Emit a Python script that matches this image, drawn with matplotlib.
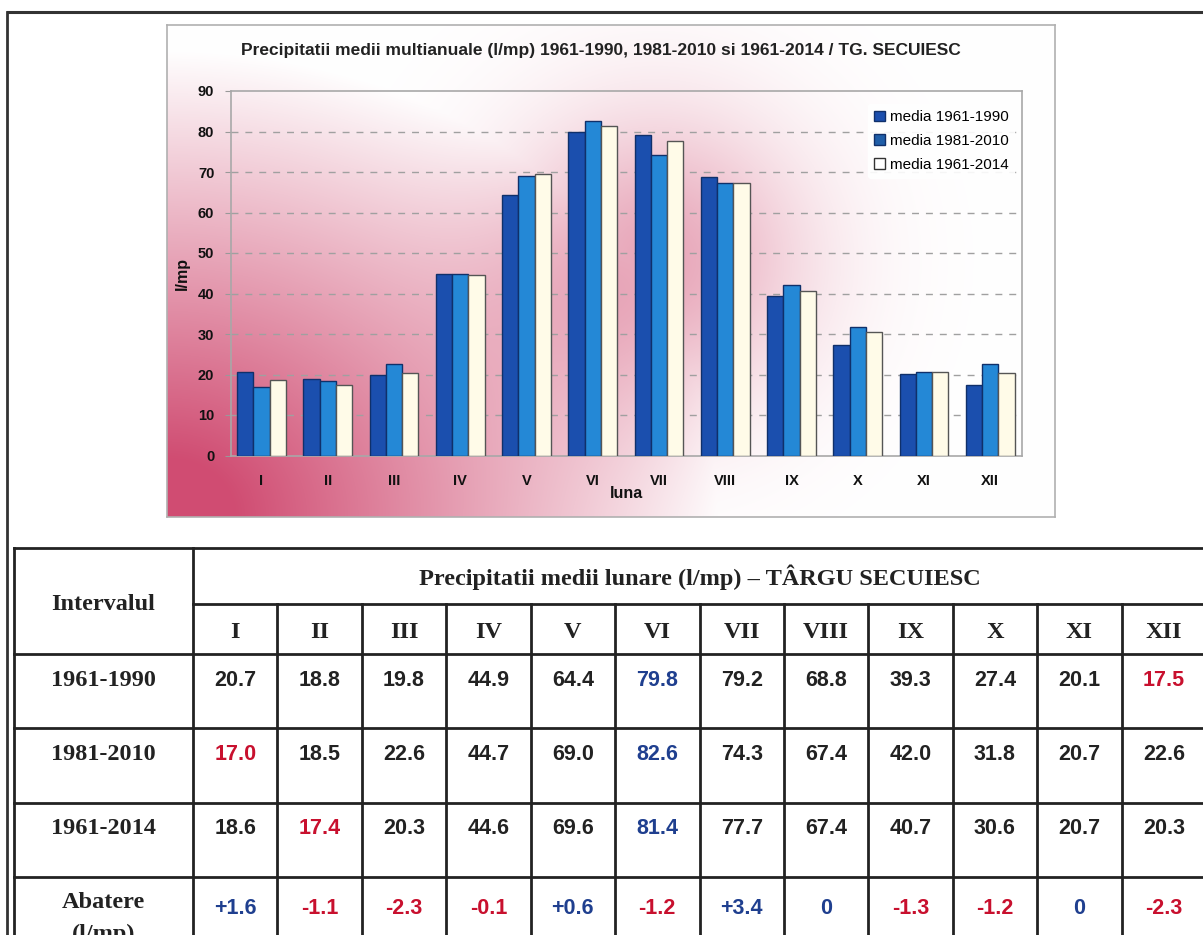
import numpy as np
import matplotlib
matplotlib.use("Agg")
import matplotlib.pyplot as plt
from matplotlib.patches import Patch

# ---------------- data ----------------
months = ["I", "II", "III", "IV", "V", "VI", "VII", "VIII", "IX", "X", "XI", "XII"]
series_labels = ["media 1961-1990", "media 1981-2010", "media 1961-2014"]
row_labels = ["1961-1990", "1981-2010", "1961-2014"]
v_1961_1990 = [20.7, 18.8, 19.8, 44.9, 64.4, 79.8, 79.2, 68.8, 39.3, 27.4, 20.1, 17.5]
v_1981_2010 = [17.0, 18.5, 22.6, 44.7, 69.0, 82.6, 74.3, 67.4, 42.0, 31.8, 20.7, 22.6]
v_1961_2014 = [18.6, 17.4, 20.3, 44.6, 69.6, 81.4, 77.7, 67.4, 40.7, 30.6, 20.7, 20.3]
abatere = ["+1.6", "-1.1", "-2.3", "-0.1", "+0.6", "-1.2", "+3.4", "0", "-1.3", "-1.2", "0", "-2.3"]
abatere_vals = [1.6, -1.1, -2.3, -0.1, 0.6, -1.2, 3.4, 0, -1.3, -1.2, 0, -2.3]
yticks = [0, 10, 20, 30, 40, 50, 60, 70, 80, 90]

title = "Precipitatii medii multianuale (l/mp) 1961-1990, 1981-2010 si 1961-2014 / TG. SECUIESC"
table_title = "Precipitatii medii lunare (l/mp) \u2013 T\u00c2RGU SECUIESC"

W, H = 1203, 935
fig = plt.figure(figsize=(W / 100, H / 100), dpi=100)
fig.patch.set_facecolor("white")

def fx(px):
    return px / W

def fy(py):
    return 1 - py / H

# ---------------- chart panel background ----------------
pl, pr, pt, pb = 167, 1055, 25, 517
bg = fig.add_axes([fx(pl), fy(pb), fx(pr - pl), fy(pt) - fy(pb)])
nx, ny = 400, 220
u = np.linspace(0, 1, nx)[None, :]
v = np.linspace(1, 0, ny)[:, None]
lin = np.clip(1 - np.sqrt((u / 0.62) ** 2 + (v / 0.95) ** 2), 0, 1) ** 1.0
glow = 0.45 * np.exp(-(((u - 0.55) / 0.17) ** 2 + ((v - 0.52) / 0.30) ** 2))
inten = np.clip(lin * 1.05 + glow, 0, 0.92)
pink = np.array([0.80, 0.24, 0.40])
img = np.ones((ny, nx, 3)) * (1 - inten[..., None]) + pink * inten[..., None]
bg.imshow(img, aspect="auto", extent=[0, 1, 0, 1], interpolation="bilinear")
bg.set_xlim(0, 1)
bg.set_ylim(0, 1)
bg.set_xticks([])
bg.set_yticks([])
for s in bg.spines.values():
    s.set_color("#b0b0b0")
    s.set_linewidth(1.2)

# ---------------- bar chart ----------------
al, ar, at, ab = 231, 1022, 91, 455.5
ax = fig.add_axes([fx(al), fy(ab), fx(ar - al), fy(at) - fy(ab)])
ax.patch.set_alpha(0)
x = np.arange(len(months))
bw = 0.245
cols = ["#1b4fae", "#2488d6", "#fffbe8"]
edges = ["#10306a", "#10306a", "#555555"]
series = [v_1961_1990, v_1981_2010, v_1961_2014]
for i, (vals, c, e, lab) in enumerate(zip(series, cols, edges, series_labels)):
    ax.bar(x + (i - 1) * bw, vals, width=bw, color=c, edgecolor=e, linewidth=1.0,
           label=lab, zorder=3)
ax.set_xlim(-0.46, 11.48)
ax.set_ylim(0, 90)
ax.set_yticks(yticks)
ax.set_yticklabels([str(t) for t in yticks], fontsize=10.5, fontweight="bold",
                   family="Liberation Sans", color="#111111")
ax.set_xticks(x)
ax.set_xticklabels(months, fontsize=10.5, fontweight="bold", family="Liberation Sans",
                   color="#111111")
ax.tick_params(axis="y", length=4, color="#999999", pad=8)
ax.tick_params(axis="x", length=0, pad=13)
for yv in yticks[1:-1]:
    ax.axhline(yv, color="#a0a0a0", linestyle=(0, (5, 5)), linewidth=1.0, zorder=1)
for s in ["top", "right", "left", "bottom"]:
    ax.spines[s].set_color("#a8a8a8")
    ax.spines[s].set_linewidth(1.2)
ax.set_xlabel("luna", fontsize=11.5, fontweight="bold", family="Liberation Sans",
              labelpad=-1, color="#111111")
ax.set_ylabel("l/mp", fontsize=11.5, fontweight="bold", family="Liberation Sans",
              labelpad=6, color="#111111")
handles = [Patch(facecolor=cols[0], edgecolor=edges[0]),
           Patch(facecolor="#1f5ea8", edgecolor=edges[1]),
           Patch(facecolor="white", edgecolor="#333333")]
leg = ax.legend(handles, series_labels, loc="upper right", bbox_to_anchor=(1.0, 0.985),
                frameon=True, handlelength=0.7, handleheight=0.7,
                handletextpad=0.3, labelspacing=0.65, borderpad=0.4,
                prop={"family": "Liberation Sans", "size": 11})
leg.get_frame().set_facecolor("white")
leg.get_frame().set_edgecolor("white")
leg.get_frame().set_alpha(0.9)

fig.text(fx(601), fy(50), title, ha="center", va="center", fontsize=12.5,
         fontweight="bold", family="Liberation Sans", color="#222222")

# ---------------- outer frame & table ----------------
tb = fig.add_axes([0, 0, 1, 1], zorder=-5)
tb.set_xlim(0, W)
tb.set_ylim(H, 0)
tb.axis("off")
tb.patch.set_alpha(0)

lc = "#222222"
lw = 2.0
tb.plot([8, W], [12, 12], color="#333333", lw=2.2)
tb.plot([7, 7], [12, H], color="#333333", lw=2.0)

tl, tr = 14, W
c0 = 193
cw = (W - c0 + 3) / 12.0
rows_y = [548, 604, 654, 728, 803, 877]
tb.plot([tl, tr], [rows_y[0], rows_y[0]], color=lc, lw=lw)
tb.plot([c0, tr], [rows_y[1], rows_y[1]], color=lc, lw=lw)
for yy in rows_y[2:]:
    tb.plot([tl, tr], [yy, yy], color=lc, lw=lw)
tb.plot([tl, tl], [rows_y[0], H], color=lc, lw=lw)
tb.plot([c0, c0], [rows_y[0], H], color=lc, lw=lw)
for k in range(1, 12):
    xx = c0 + k * cw
    tb.plot([xx, xx], [rows_y[1], H], color=lc, lw=lw)

serif = "Liberation Serif"
sans = "Liberation Sans"
txt = "#222222"
red = "#c8102e"
blue = "#1f3f8f"
sfs = 17.5
vfs = 15.5

tb.text((tl + c0) / 2, 604, "Intervalul", ha="center", va="center", fontsize=sfs,
        fontweight="bold", family=serif, color=txt)
tb.text(c0 + 6 * cw, 577, table_title, ha="center", va="center", fontsize=sfs,
        fontweight="bold", family=serif, color=txt)
for k, m in enumerate(months):
    tb.text(c0 + (k + 0.5) * cw, 632, m, ha="center", va="center", fontsize=sfs,
            fontweight="bold", family=serif, color=txt)

row_centers = [681, 755, 829]
for r, (lab, vals) in enumerate(zip(row_labels, series)):
    tb.text((tl + c0) / 2, row_centers[r], lab, ha="center", va="center", fontsize=sfs,
            fontweight="bold", family=serif, color=txt)
    for k in range(12):
        vk = vals[k]
        if vk == max(vals):
            c = blue
        elif vk == min(vals):
            c = red
        else:
            c = txt
        tb.text(c0 + (k + 0.5) * cw, row_centers[r], f"{vk:.1f}", ha="center",
                va="center", fontsize=vfs, fontweight="bold", family=sans, color=c)

tb.text((tl + c0) / 2, 902, "Abatere", ha="center", va="center", fontsize=sfs,
        fontweight="bold", family=serif, color=txt)
tb.text((tl + c0) / 2, 934, "(l/mp)", ha="center", va="center", fontsize=sfs,
        fontweight="bold", family=serif, color=txt)
for k in range(12):
    c = red if abatere_vals[k] < 0 else blue
    tb.text(c0 + (k + 0.5) * cw, 909, abatere[k], ha="center", va="center",
            fontsize=vfs, fontweight="bold", family=sans, color=c)

fig.savefig("out.png", dpi=100, facecolor="white")
